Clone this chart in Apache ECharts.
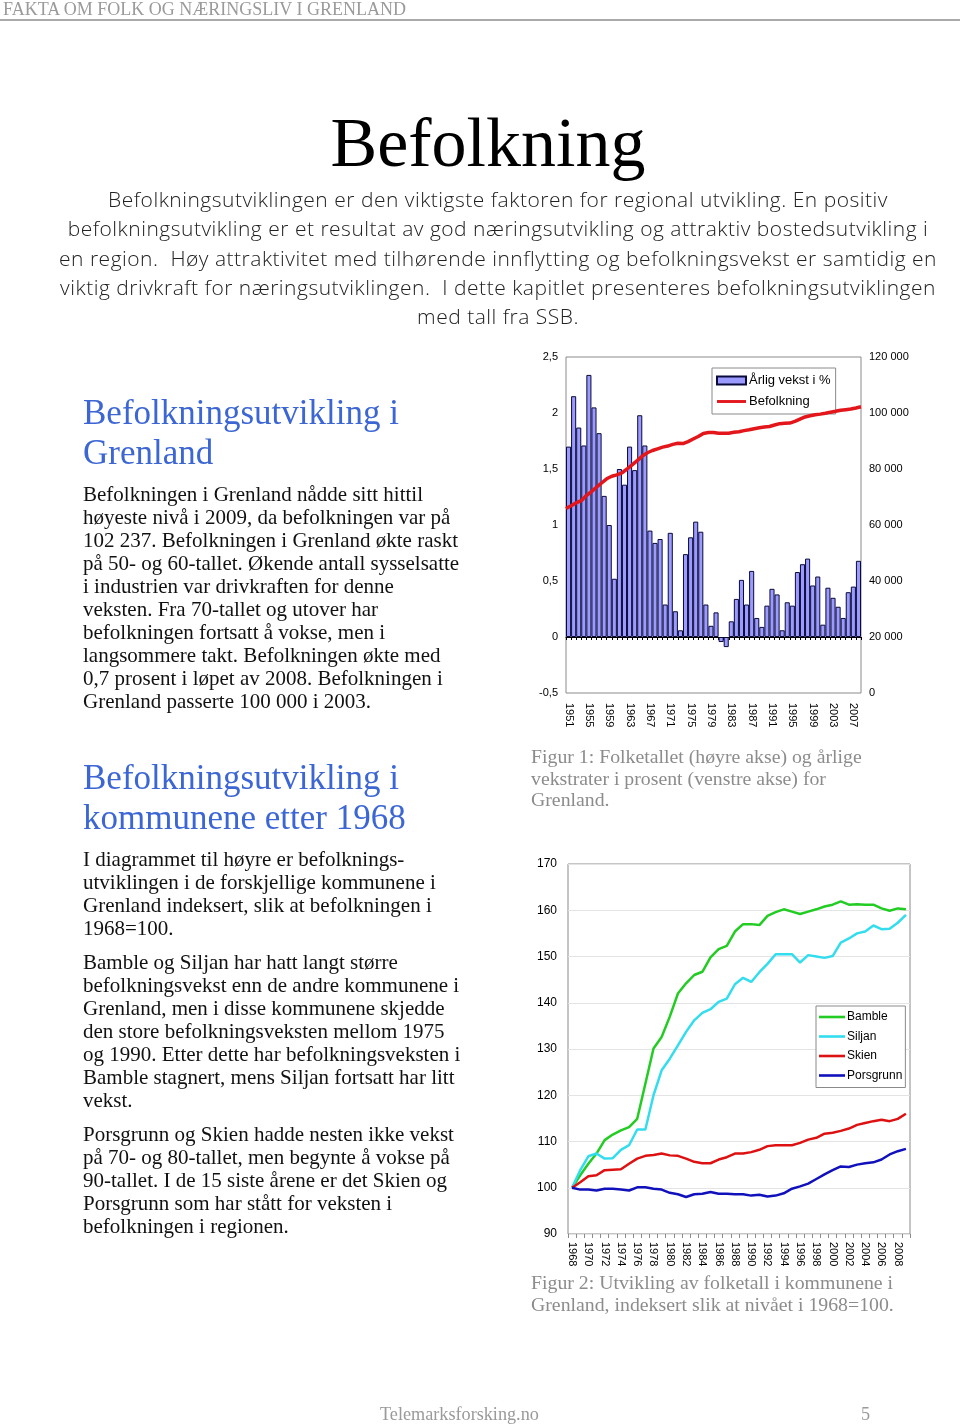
<!DOCTYPE html>
<html>
<head>
<meta charset="utf-8">
<script src="https://cdn.jsdelivr.net/npm/echarts@6.0.0/dist/echarts.min.js"></script>
<style>
  html, body { margin: 0; padding: 0; background: #fff; }
  body { width: 960px; height: 1426px; position: relative; overflow: hidden; }
  #chart { position: absolute; left: 0; top: 0; width: 960px; height: 1426px; }
  .t { position: absolute; white-space: nowrap; pointer-events: none; }
  .serif { font-family: "Liberation Serif", "DejaVu Serif", serif; }
  .hdr { left: 3px; top: 0px; font-size: 18px; line-height: 18px; color: #9a9a9a; }
  .rule { position: absolute; left: 0; top: 19px; width: 960px; height: 2px; background: #aaa; }
  .title { left: 0; width: 976px; text-align: center; top: 108px; font-size: 70px; line-height: 70px; color: #000; }
  .intro { left: 40px; width: 916px; text-align: center; top: 185px; font-family: "Open Sans", Lato, sans-serif; font-weight: 300; font-size: 21px; letter-spacing: 0.5px; line-height: 29.3px; color: #222; }
  .h2 { left: 83px; font-size: 35px; line-height: 40px; color: #3b66d4; }
  .body { left: 83px; font-size: 21px; line-height: 23px; color: #111; }
  .cap { left: 531px; font-size: 19.8px; line-height: 21.5px; color: #8c8c8c; }
  .foot { top: 1405px; font-size: 18.2px; line-height: 18px; color: #9a9a9a; }
</style>
</head>
<body>
<div id="chart"></div>

<div class="t serif hdr">FAKTA OM FOLK OG NÆRINGSLIV I GRENLAND</div>
<div class="rule"></div>
<div class="t serif title">Befolkning</div>
<div class="t intro">Befolkningsutviklingen er den viktigste faktoren for regional utvikling. En positiv<br>befolkningsutvikling er et resultat av god næringsutvikling og attraktiv bostedsutvikling i<br>en region.&nbsp; Høy attraktivitet med tilhørende innflytting og befolkningsvekst er samtidig en<br>viktig drivkraft for næringsutviklingen.&nbsp; I dette kapitlet presenteres befolkningsutviklingen<br>med tall fra SSB.</div>

<div class="t serif h2" style="top:393px">Befolkningsutvikling i<br>Grenland</div>
<div class="t serif body" style="top:483px">Befolkningen i Grenland nådde sitt hittil<br>høyeste nivå i 2009, da befolkningen var på<br>102 237. Befolkningen i Grenland økte raskt<br>på 50- og 60-tallet. Økende antall sysselsatte<br>i industrien var drivkraften for denne<br>veksten. Fra 70-tallet og utover har<br>befolkningen fortsatt å vokse, men i<br>langsommere takt. Befolkningen økte med<br>0,7 prosent i løpet av 2008. Befolkningen i<br>Grenland passerte 100 000 i 2003.</div>

<div class="t serif h2" style="top:758px">Befolkningsutvikling i<br>kommunene etter 1968</div>
<div class="t serif body" style="top:848px">I diagrammet til høyre er befolknings-<br>utviklingen i de forskjellige kommunene i<br>Grenland indeksert, slik at befolkningen i<br>1968=100.</div>
<div class="t serif body" style="top:951px">Bamble og Siljan har hatt langt større<br>befolkningsvekst enn de andre kommunene i<br>Grenland, men i disse kommunene skjedde<br>den store befolkningsveksten mellom 1975<br>og 1990. Etter dette har befolkningsveksten i<br>Bamble stagnert, mens Siljan fortsatt har litt<br>vekst.</div>
<div class="t serif body" style="top:1123px">Porsgrunn og Skien hadde nesten ikke vekst<br>på 70- og 80-tallet, men begynte å vokse på<br>90-tallet. I de 15 siste årene er det Skien og<br>Porsgrunn som har stått for veksten i<br>befolkningen i regionen.</div>

<div class="t serif cap" style="top:746px">Figur 1: Folketallet (høyre akse) og årlige<br>vekstrater i prosent (venstre akse) for<br>Grenland.</div>
<div class="t serif cap" style="top:1272px">Figur 2: Utvikling av folketall i kommunene i<br>Grenland, indeksert slik at nivået i 1968=100.</div>

<div class="t serif foot" style="left:380px">Telemarksforsking.no</div>
<div class="t serif foot" style="left:861px">5</div>

<script>
// ---- Figure 1 data ----
const growthYears = ['1951','1952','1953','1954','1955','1956','1957','1958','1959','1960',
  '1961','1962','1963','1964','1965','1966','1967','1968','1969','1970',
  '1971','1972','1973','1974','1975','1976','1977','1978','1979','1980',
  '1981','1982','1983','1984','1985','1986','1987','1988','1989','1990',
  '1991','1992','1993','1994','1995','1996','1997','1998','1999','2000',
  '2001','2002','2003','2004','2005','2006','2007','2008'];
const growthPct = [1.70,2.15,1.87,1.71,2.34,2.05,1.82,1.26,1.00,0.52,
  1.50,1.36,1.70,1.49,1.98,1.71,0.95,0.84,0.875,0.29,
  0.93,0.23,0.06,0.74,0.89,1.03,0.94,0.29,0.10,0.22,
  -0.045,-0.09,0.14,0.34,0.51,0.29,0.59,0.17,0.09,0.28,
  0.43,0.38,0.06,0.31,0.28,0.58,0.65,0.70,0.46,0.54,
  0.11,0.44,0.35,0.27,0.17,0.40,0.45,0.68];
const popYears = ['1950','1951','1952','1953','1954','1955','1956','1957','1958','1959',
  '1960','1961','1962','1963','1964','1965','1966','1967','1968','1969',
  '1970','1971','1972','1973','1974','1975','1976','1977','1978','1979',
  '1980','1981','1982','1983','1984','1985','1986','1987','1988','1989',
  '1990','1991','1992','1993','1994','1995','1996','1997','1998','1999',
  '2000','2001','2002','2003','2004','2005','2006','2007','2009'];
const population = [65900,66900,67900,68700,70500,71900,73500,75000,76500,77400,
  77900,78600,80000,81500,83000,84600,85800,86600,87200,87800,
  88200,88800,89200,89100,89800,90700,91600,92700,93000,93000,
  92800,92800,92800,93100,93300,93700,94000,94400,94700,95000,
  95200,95700,96200,96300,96400,97000,97800,98600,99000,99400,
  99600,99900,100300,100600,101000,101200,101400,101800,102237];
const leftTicks = [-0.5, 2.5, 0.5];      // min, max, step
const rightTicks = [0, 120000, 20000];

// ---- Figure 2 data ----
const idxYears = ['1968','1969','1970','1971','1972','1973','1974','1975','1976','1977',
  '1978','1979','1980','1981','1982','1983','1984','1985','1986','1987',
  '1988','1989','1990','1991','1992','1993','1994','1995','1996','1997',
  '1998','1999','2000','2001','2002','2003','2004','2005','2006','2007',
  '2008','2009'];
const bamble = [100,102.7,105.2,107.4,110.3,111.5,112.4,113.1,114.9,122.5,
  130.1,132.6,137.0,142.0,144.2,146.0,146.7,149.8,151.6,152.3,
  155.4,157.0,157.0,156.8,158.8,159.6,160.2,159.7,159.2,159.7,
  160.2,160.8,161.2,161.9,161.2,161.3,161.2,161.2,160.4,159.9,
  160.4,160.2];
const siljan = [100,103.8,106.8,107.4,106.3,106.4,108.2,109.2,112.6,112.6,
  120.0,125.4,127.9,130.8,133.7,136.2,137.8,138.6,140.2,140.9,
  144.0,145.4,144.5,146.6,148.4,150.5,150.5,150.5,148.7,150.3,
  150.0,149.7,150.1,153.0,153.9,155.0,155.4,156.7,155.9,156.0,
  157.3,159.0];
const skien = [100,101.2,102.5,102.7,103.8,103.9,104.0,105.2,106.3,106.9,
  107.1,107.4,107.0,106.9,106.3,105.6,105.3,105.3,106.1,106.6,
  107.4,107.4,107.7,108.2,109.0,109.2,109.2,109.2,109.7,110.4,
  110.8,111.7,111.9,112.3,112.8,113.6,114.0,114.4,114.7,114.4,
  114.9,116.0];
const porsgrunn = [100,99.6,99.6,99.4,99.8,99.8,99.6,99.4,100.1,100.1,
  99.8,99.6,98.9,98.6,98.0,98.6,98.7,99.1,98.7,98.7,
  98.6,98.6,98.3,98.5,98.1,98.3,98.8,99.8,100.3,100.9,
  101.9,102.9,103.8,104.6,104.5,105.0,105.3,105.5,106.1,107.2,
  107.9,108.4];
const idxTicks = [90, 170, 10];

const chart = echarts.init(document.getElementById('chart'), null, { renderer: 'canvas' });
const axisFont = { fontFamily: '"Liberation Sans", Arial, sans-serif', color: '#000' };
const fmtThousands = v => String(v).replace(/\B(?=(\d{3})+(?!\d))/g, ' ');
const lineIcon = 'path://M0,0 L30,0 L30,3 L0,3 Z';

chart.setOption({
  animation: false,
  backgroundColor: 'transparent',
  grid: [
    { left: 566, top: 357, width: 295, height: 336, show: true, borderColor: '#8a8a8a', borderWidth: 1, containLabel: false },
    { left: 568, top: 864, width: 342, height: 370, show: true, borderColor: '#8a8a8a', borderWidth: 1, containLabel: false }
  ],
  legend: [
    {
      left: 712, top: 368, orient: 'vertical',
      backgroundColor: '#fff', borderColor: '#8a8a8a', borderWidth: 1,
      padding: [6, 5, 6, 4], itemGap: 8, itemWidth: 29, itemHeight: 8,
      symbolKeepAspect: true,
      textStyle: Object.assign({ fontSize: 13, padding: [0, 0, 0, -2] }, axisFont),
      data: [{ name: 'Årlig vekst i %', icon: 'rect' }, { name: 'Befolkning', icon: lineIcon }]
    },
    {
      left: 816, top: 1006, orient: 'vertical',
      backgroundColor: '#fff', borderColor: '#8a8a8a', borderWidth: 1,
      padding: [5, 3, 6, 3], itemGap: 7.5, itemWidth: 26, itemHeight: 10,
      symbolKeepAspect: true,
      textStyle: Object.assign({ fontSize: 12, padding: [0, 0, 0, -3] }, axisFont),
      data: [
        { name: 'Bamble', icon: lineIcon },
        { name: 'Siljan', icon: lineIcon },
        { name: 'Skien', icon: lineIcon },
        { name: 'Porsgrunn', icon: lineIcon }
      ]
    }
  ],
  xAxis: [
    {
      type: 'category', gridIndex: 0, data: growthYears, position: 'bottom',
      axisLine: { show: false, onZero: false },
      axisTick: { show: false },
      axisLabel: Object.assign({ rotate: -90, interval: 3, fontSize: 11, margin: 10 }, axisFont)
    },
    {
      type: 'category', gridIndex: 0, data: popYears, boundaryGap: false, show: false
    },
    {
      type: 'category', gridIndex: 1, data: idxYears, position: 'bottom',
      axisLine: { show: false, onZero: false },
      axisTick: { show: true, interval: 0, length: 4, alignWithLabel: false, lineStyle: { color: '#8a8a8a' } },
      axisLabel: Object.assign({ rotate: -90, interval: 1, fontSize: 11, margin: 8 }, axisFont)
    },
    {
      // zero line of figure 1 with its small tick marks
      type: 'category', gridIndex: 0, data: growthYears, position: 'bottom',
      axisLine: { show: true, onZero: true, onZeroAxisIndex: 0, lineStyle: { color: '#000', width: 1 } },
      axisTick: { show: true, interval: 0, length: 3, lineStyle: { color: '#000' } },
      axisLabel: { show: false }
    }
  ],
  yAxis: [
    {
      type: 'value', gridIndex: 0, min: leftTicks[0], max: leftTicks[1], interval: leftTicks[2],
      axisLine: { show: false }, axisTick: { show: false }, splitLine: { show: false },
      axisLabel: Object.assign({ fontSize: 11, margin: 8, formatter: v => String(v).replace('.', ',') }, axisFont)
    },
    {
      type: 'value', gridIndex: 0, position: 'right', min: rightTicks[0], max: rightTicks[1], interval: rightTicks[2],
      axisLine: { show: false }, axisTick: { show: false }, splitLine: { show: false },
      axisLabel: Object.assign({ fontSize: 11, margin: 8, formatter: fmtThousands }, axisFont)
    },
    {
      type: 'value', gridIndex: 1, min: idxTicks[0], max: idxTicks[1], interval: idxTicks[2],
      axisLine: { show: false }, axisTick: { show: false },
      splitLine: { show: true, lineStyle: { color: '#e4e4e4', width: 1 } },
      axisLabel: Object.assign({ fontSize: 12, margin: 11 }, axisFont)
    }
  ],
  series: [
    {
      name: 'Årlig vekst i %', type: 'bar', xAxisIndex: 0, yAxisIndex: 0,
      data: growthPct, barCategoryGap: '0%',
      itemStyle: { color: '#9a9aff', borderColor: '#0a0a3a', borderWidth: 1 },
      z: 2
    },
    {
      name: 'Befolkning', type: 'line', xAxisIndex: 1, yAxisIndex: 1,
      data: population, symbol: 'none', showSymbol: false,
      lineStyle: { color: '#e3161b', width: 3.5 }, itemStyle: { color: '#e3161b' }, z: 5
    },
    { name: 'Bamble', type: 'line', xAxisIndex: 2, yAxisIndex: 2, data: bamble, symbol: 'none',
      lineStyle: { color: '#22cc22', width: 2.5 }, itemStyle: { color: '#22cc22' } },
    { name: 'Siljan', type: 'line', xAxisIndex: 2, yAxisIndex: 2, data: siljan, symbol: 'none',
      lineStyle: { color: '#33ddee', width: 2.5 }, itemStyle: { color: '#33ddee' } },
    { name: 'Skien', type: 'line', xAxisIndex: 2, yAxisIndex: 2, data: skien, symbol: 'none',
      lineStyle: { color: '#dd1111', width: 2.5 }, itemStyle: { color: '#dd1111' } },
    { name: 'Porsgrunn', type: 'line', xAxisIndex: 2, yAxisIndex: 2, data: porsgrunn, symbol: 'none',
      lineStyle: { color: '#1111bb', width: 2.5 }, itemStyle: { color: '#1111bb' } }
  ]
});
</script>
</body>
</html>
